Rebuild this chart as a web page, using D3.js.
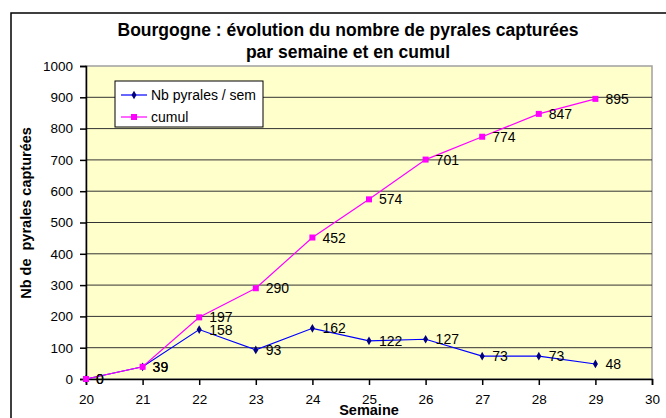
<!DOCTYPE html>
<html>
<head>
<meta charset="utf-8">
<script src="https://cdn.jsdelivr.net/npm/d3@7"></script>
<style>
  body { margin: 0; background: #fff; }
  svg text { font-family: Arial, "Liberation Sans", sans-serif; }
</style>
</head>
<body>
<div id="chart"></div>
<script>

// semaines
var weeks = [20, 21, 22, 23, 24, 25, 26, 27, 28, 29];
var perWeek = [0, 39, 158, 93, 162, 122, 127, 73, 73, 48];
var cumul = [0, 39, 197, 290, 452, 574, 701, 774, 847, 895];
var yTicks = [0, 100, 200, 300, 400, 500, 600, 700, 800, 900, 1000];
var xTicks = [20, 21, 22, 23, 24, 25, 26, 27, 28, 29, 30];
var seriesNames = ["Nb pyrales / sem", "cumul"];

const W = 666, H = 418;
const margin = {top: 66, right: 14, bottom: 39, left: 86};

const svg = d3.select("#chart")
    .append("svg")
    .attr("width", W)
    .attr("height", H);

// cadre du graphique
svg.append("rect")
    .attr("x", 11)
    .attr("y", 13)
    .attr("width", W + 10)
    .attr("height", H + 10)
    .style("fill", "#fff")
    .style("stroke", "#000")
    .style("stroke-width", "1.5px");

var xScale = d3.scaleLinear()
    .domain([20, 30])
    .range([margin.left, W - margin.right]);

var yScale = d3.scaleLinear()
    .domain([0, 1000])
    .range([H - margin.bottom, margin.top]);

// zone de tracé
svg.append("rect")
    .attr("x", xScale(20))
    .attr("y", yScale(1000))
    .attr("width", xScale(30) - xScale(20))
    .attr("height", yScale(0) - yScale(1000))
    .style("fill", "#ffffcc")
    .style("stroke", "#a0a0a0")
    .style("stroke-width", "1.5px");

// quadrillage
svg.append("g")
    .selectAll("line")
    .data(yTicks.slice(1, -1))
    .enter()
    .append("line")
    .attr("x1", xScale(20))
    .attr("x2", xScale(30))
    .attr("y1", function (d) { return yScale(d); })
    .attr("y2", function (d) { return yScale(d); })
    .style("stroke", "#333")
    .style("stroke-width", "1px");

svg.append("g")
    .attr("class", "y-axis")
    .attr("transform", "translate(" + xScale(20) + ",0)")
    .call(d3.axisLeft(yScale).tickValues(yTicks).tickFormat(d3.format("d")).tickSize(6).tickPadding(7));

svg.append("g")
    .attr("class", "x-axis")
    .attr("transform", "translate(0," + yScale(0) + ")")
    .call(d3.axisBottom(xScale).tickValues(xTicks).tickFormat(d3.format("d")).tickSize(6).tickPadding(9));

svg.selectAll(".y-axis path, .x-axis path, .tick line")
    .style("stroke", "#000")
    .style("stroke-width", "1.5px");
svg.selectAll(".y-axis .tick text, .x-axis .tick text")
    .style("font-size", "13.5px")
    .style("fill", "#000");

// titres
svg.append("text")
    .attr("x", 348)
    .attr("y", 36)
    .attr("text-anchor", "middle")
    .style("font-size", "17.5px")
    .style("font-weight", "bold")
    .text("Bourgogne : évolution du nombre de pyrales capturées");
svg.append("text")
    .attr("x", 348)
    .attr("y", 58)
    .attr("text-anchor", "middle")
    .style("font-size", "17.5px")
    .style("font-weight", "bold")
    .text("par semaine et en cumul");

svg.append("text")
    .attr("transform", "translate(31,213) rotate(-90)")
    .attr("text-anchor", "middle")
    .style("font-size", "14.5px")
    .style("font-weight", "bold")
    .text("Nb de  pyrales capturées")
    .style("white-space", "pre");

svg.append("text")
    .attr("x", 369)
    .attr("y", 415)
    .attr("text-anchor", "middle")
    .style("font-size", "14.5px")
    .style("font-weight", "bold")
    .text("Semaine");

var line = d3.line()
    .x(function (d) { return xScale(d[0]); })
    .y(function (d) { return yScale(d[1]); });

var dataWeek = weeks.map(function (w, i) { return [w, perWeek[i]]; });
var dataCumul = weeks.map(function (w, i) { return [w, cumul[i]]; });

// série hebdo
svg.append("path")
    .datum(dataWeek)
    .attr("d", line)
    .style("fill", "none")
    .style("stroke", "#0000ff")
    .style("stroke-width", "1.2px");

svg.append("g")
    .selectAll("path")
    .data(dataWeek)
    .enter()
    .append("path")
    .attr("d", d3.symbol().type(d3.symbolDiamond).size(22))
    .attr("transform", function (d) { return "translate(" + xScale(d[0]) + "," + yScale(d[1]) + ")"; })
    .style("fill", "#000080");

// série cumul
svg.append("path")
    .datum(dataCumul)
    .attr("d", line)
    .style("fill", "none")
    .style("stroke", "#ff00ff")
    .style("stroke-width", "1.2px");

svg.append("g")
    .selectAll("rect")
    .data(dataCumul)
    .enter()
    .append("rect")
    .attr("x", function (d) { return xScale(d[0]) - 3; })
    .attr("y", function (d) { return yScale(d[1]) - 3; })
    .attr("width", 6)
    .attr("height", 6)
    .style("fill", "#ff00ff");

// étiquettes
var labels = dataWeek.concat(dataCumul);
svg.append("g")
    .selectAll("text")
    .data(labels)
    .enter()
    .append("text")
    .attr("x", function (d) { return xScale(d[0]) + 10; })
    .attr("y", function (d) { return yScale(d[1]) + 5; })
    .style("font-size", "14px")
    .style("fill", "#000")
    .text(function (d) { return d[1]; });

// légende
var leg = svg.append("g").attr("transform", "translate(115,81)");
leg.append("rect")
    .attr("width", 148)
    .attr("height", 46)
    .style("fill", "#fff")
    .style("stroke", "#000")
    .style("stroke-width", "1px");

var legColors = ["#0000ff", "#ff00ff"];
seriesNames.forEach(function (name, i) {
    var y = 14 + i * 22;
    leg.append("line")
        .attr("x1", 6).attr("x2", 32)
        .attr("y1", y).attr("y2", y)
        .style("stroke", legColors[i])
        .style("stroke-width", "1.2px");
    if (i === 0) {
        leg.append("path")
            .attr("d", d3.symbol().type(d3.symbolDiamond).size(22))
            .attr("transform", "translate(19," + y + ")")
            .style("fill", "#000080");
    } else {
        leg.append("rect")
            .attr("x", 16).attr("y", y - 3)
            .attr("width", 6).attr("height", 6)
            .style("fill", "#ff00ff");
    }
    leg.append("text")
        .attr("x", 36)
        .attr("y", y + 5)
        .style("font-size", "14px")
        .text(name);
});

</script>
</body>
</html>
